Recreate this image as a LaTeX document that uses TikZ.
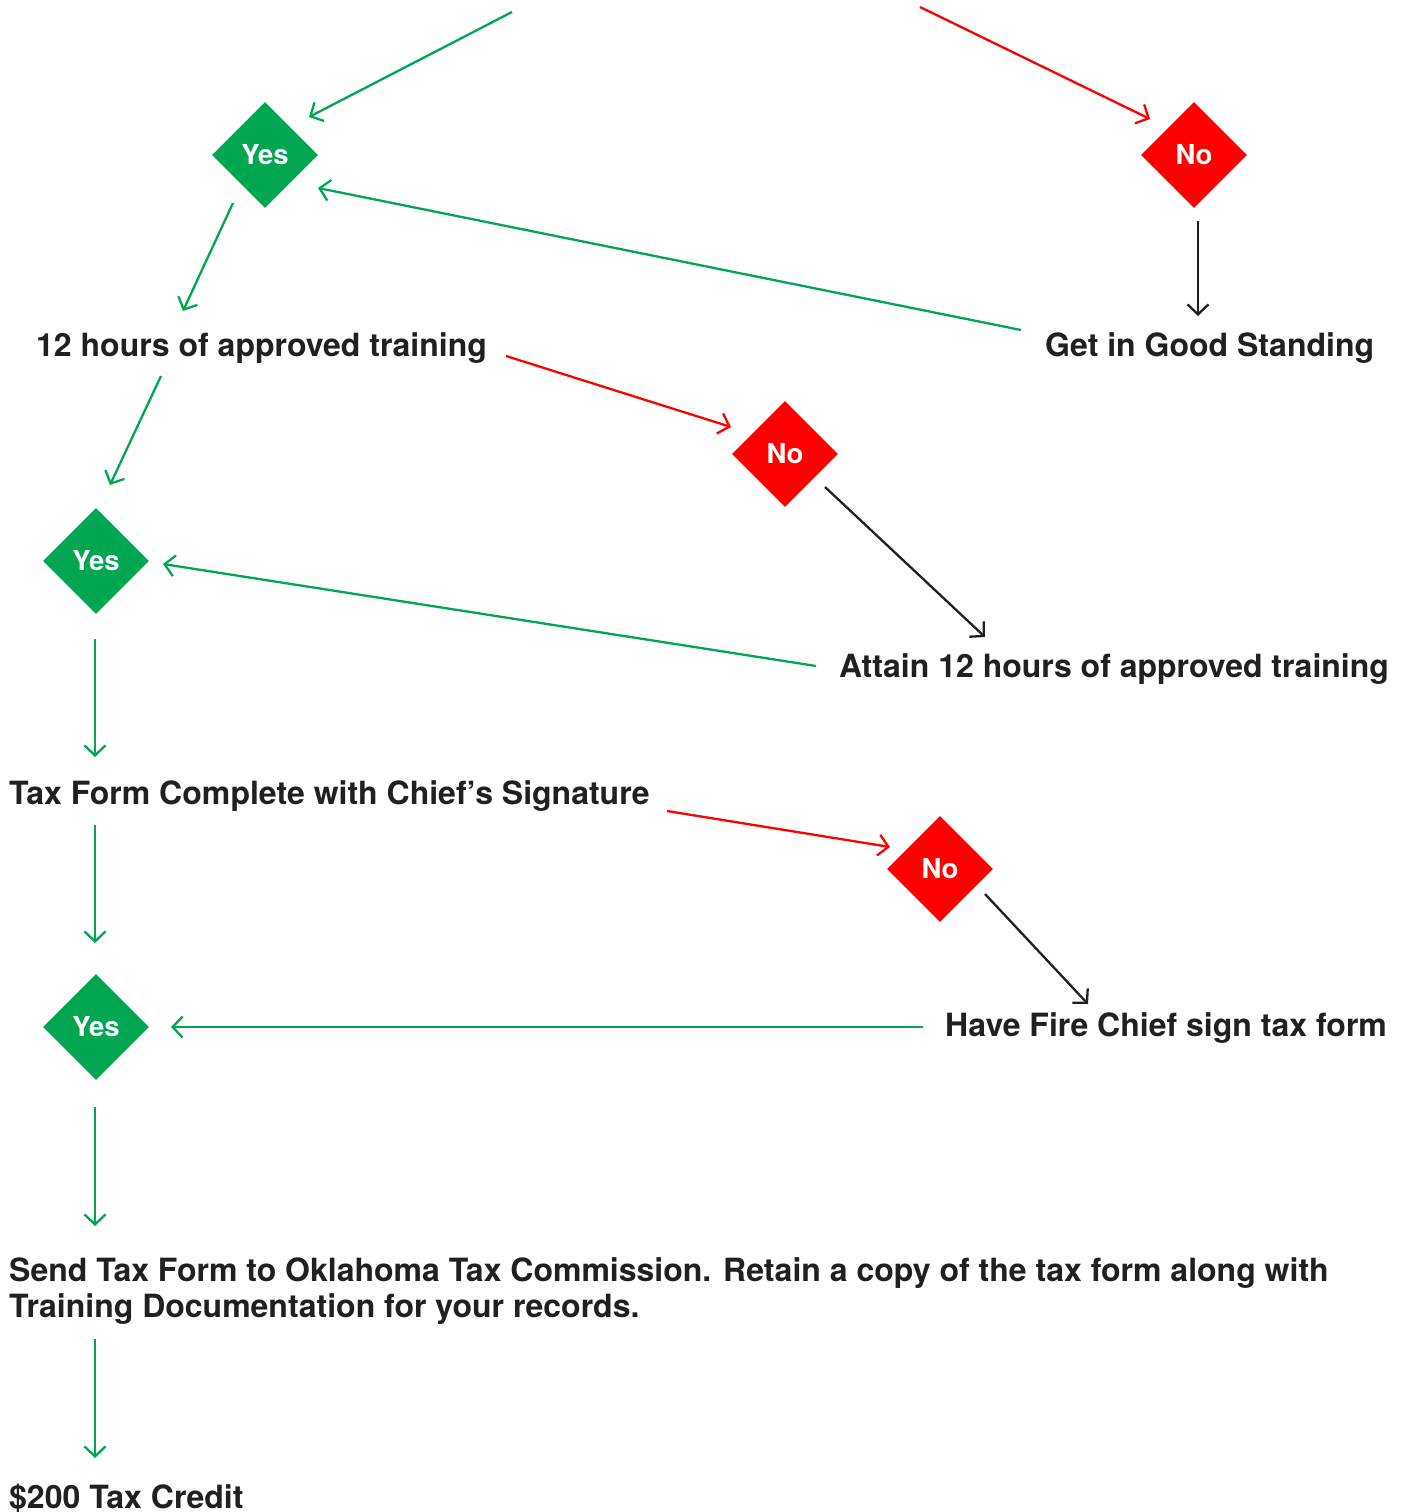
\documentclass[tikz,border=0pt]{standalone}
\usepackage{fontspec}
\setmainfont{TeX Gyre Heros}
\usetikzlibrary{shapes.geometric,arrows.meta,calc}
\definecolor{fgreen}{HTML}{00A651}
\definecolor{fred}{HTML}{FF0000}
\definecolor{ftext}{HTML}{231F20}
\tikzset{
  dia/.style={diamond, draw=none, inner sep=0pt, minimum width=106pt, minimum height=106pt, aspect=1,
    text=white, font=\fontsize{27.5}{30}\selectfont\bfseries},
  yesd/.style={dia, fill=fgreen},
  nod/.style={dia, fill=fred},
  lbl/.style={inner sep=0pt, text=ftext, font=\fontsize{32}{35.5}\selectfont\bfseries},
  conn/.style={line width=2.3pt, -{Straight Barb[length=10pt,width=21pt,line width=2.3pt]}},
  ga/.style={conn, draw=fgreen},
  ra/.style={conn, draw=fred},
  ka/.style={conn, draw=ftext},
}
\begin{document}
\begin{tikzpicture}[x=1pt,y=-1pt]
\useasboundingbox (0,0) rectangle (1405,1512);
% nodes
\node[yesd] (y1) at (265,155) {Yes};
\node[nod] (n1) at (1194,155) {No};
\node[lbl, anchor=base west] (gs) at (1045,356) {Get in Good Standing};
\node[lbl, anchor=base west] (t12) at (36,356) {12 hours of approved training};
\node[nod] (n2) at (785,454) {No};
\node[yesd] (y2) at (96,561) {Yes};
\node[lbl, anchor=base west] (at) at (839,677) {Attain 12 hours of approved training};
\node[lbl, anchor=base west] (tf) at (9,804) {Tax Form Complete with Chief’s Signature};
\node[nod] (n3) at (940,869) {No};
\node[yesd] (y3) at (96,1027) {Yes};
\node[lbl, anchor=base west] (fc) at (945,1036) {Have Fire Chief sign tax form};
\node[lbl, anchor=north west, align=left] (send) at (9,1257.5) {Send Tax Form to Oklahoma Tax Commission. Retain a copy of the tax form along with\\Training Documentation for your records.};
\node[lbl, anchor=base west] (cr) at (9,1508) {\$200 Tax Credit};
\coordinate (s1) at (512,12);
\coordinate (s2) at (920,7);
% connectors
\draw[ga] (s1) -- ($(y1)+(44,-38)$);
\draw[ra] (s2) -- ($(n1)+(-44,-36)$);
\draw[ga] ($(y1)+(-32,48)$) -- ($(t12.base west)+(147,-45)$);
\draw[ka] ($(n1)+(4,66)$) -- ($(gs.base west)+(153,-40)$);
\draw[ga] ($(gs.base west)+(-24,-26)$) -- ($(y1)+(53,33)$);
\draw[ra] ($(t12.base west)+(470,0)$) -- ($(n2)+(-54,-27)$);
\draw[ga] ($(t12.base west)+(125,20)$) -- ($(y2)+(14,-76)$);
\draw[ka] ($(n2)+(40,33)$) -- ($(at.base west)+(146,-40)$);
\draw[ga] ($(at.base west)+(-23,-11)$) -- ($(y2)+(67,3)$);
\draw[ga] ($(y2)+(-1,78)$) -- ($(tf.base west)+(86,-47)$);
\draw[ra] ($(tf.base west)+(658,7)$) -- ($(n3)+(-50,-22)$);
\draw[ga] ($(tf.base west)+(86,21)$) -- ($(y3)+(-1,-84)$);
\draw[ka] ($(n3)+(45,25)$) -- ($(fc.base west)+(143,-32)$);
\draw[ga] ($(fc.base west)+(-22,-9)$) -- ($(y3)+(75,0)$);
\draw[ga] ($(y3)+(-1,80)$) -- ($(send.north west)+(86,-31.5)$);
\draw[ga] ($(send.north west)+(86,81.5)$) -- ($(cr.base west)+(86,-50)$);
\end{tikzpicture}
\end{document}
